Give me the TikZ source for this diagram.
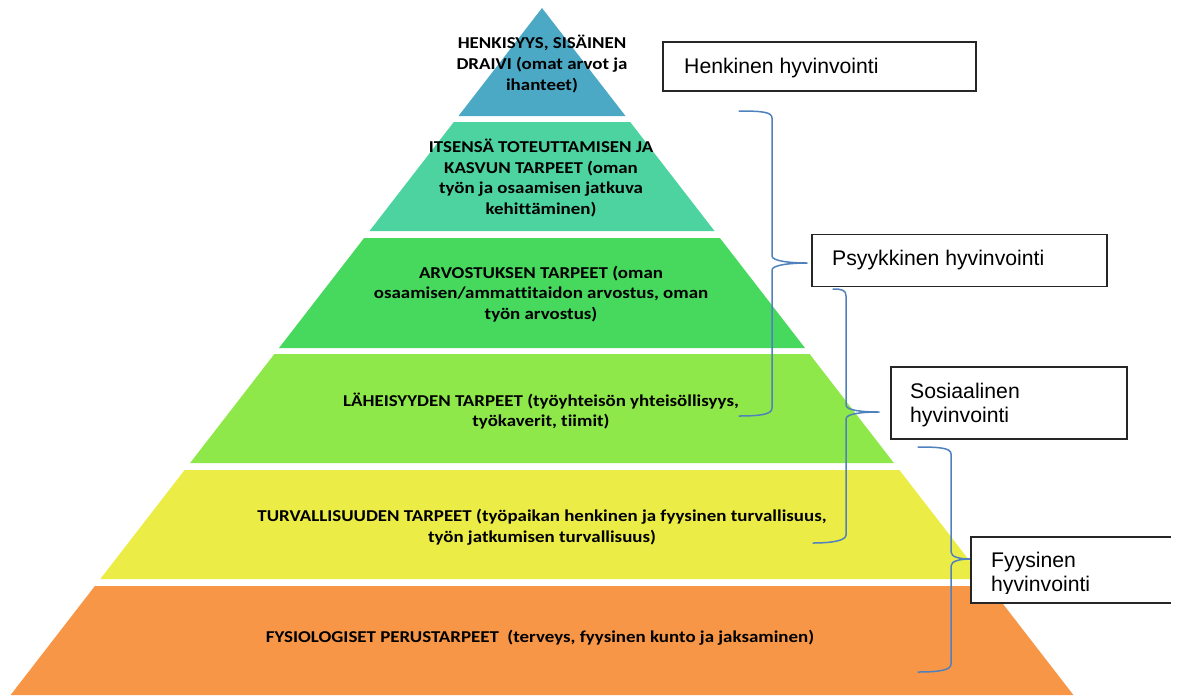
\documentclass[tikz,border=0pt]{standalone}
\usepackage{fontspec}
\setmainfont{Carlito}[FakeStretch=1.14, Ligatures=NoCommon]
\newfontfamily\arialf{Liberation Sans}
\definecolor{cA}{HTML}{4BA9C6}
\definecolor{cB}{HTML}{4CD3A0}
\definecolor{cC}{HTML}{47D95E}
\definecolor{cD}{HTML}{8EE84A}
\definecolor{cE}{HTML}{ECEC46}
\definecolor{cF}{HTML}{F79646}
\definecolor{bracecol}{HTML}{4F81BD}
\definecolor{boxgray}{HTML}{262626}
\tikzset{
  lvl/.style={fill=#1, draw=none},
  lvltext/.style={font=\bfseries\fontsize{16.6}{20.8}\selectfont, align=center, inner sep=0pt, text=black},
  wbox/.style={draw=boxgray, line width=1.3pt, fill=white, inner sep=0pt, rectangle},
  wtext/.style={font=\arialf\fontsize{21.2}{24}\selectfont, inner sep=0pt, anchor=base west, text=black},
  bracepath/.style={draw=bracecol, line width=1.5pt, line join=round, line cap=round},
}
\begin{document}
\begin{tikzpicture}[x=1pt,y=-1pt]
\useasboundingbox (0,0) rectangle (1178,697);
% pyramid layers
\fill[lvl=cA] (542,8) -- (625.5,116) -- (458.5,116) -- cycle;
\fill[lvl=cB] (453.8,122) -- (630.2,122) -- (714.5,231) -- (369.5,231) -- cycle;
\fill[lvl=cC] (364.1,238) -- (719.9,238) -- (805.0,348) -- (279.0,348) -- cycle;
\fill[lvl=cD] (274.4,354) -- (809.6,354) -- (893.9,463) -- (190.1,463) -- cycle;
\fill[lvl=cE] (184.6,470) -- (899.4,470) -- (983.7,579) -- (100.3,579) -- cycle;
\fill[lvl=cF] (94.9,586) -- (989.1,586) -- (1073.4,695) -- (10.6,695) -- cycle;
% pyramid texts
\node[lvltext] (t1) at (542,64) {HENKISYYS, SISÄINEN\\DRAIVI (omat arvot ja\\ihanteet)};
\node[lvltext] (t2) at (541,178) {ITSENSÄ TOTEUTTAMISEN JA\\KASVUN TARPEET (oman\\työn ja osaamisen jatkuva\\kehittäminen)};
\node[lvltext] (t3) at (541,294) {ARVOSTUKSEN TARPEET (oman\\osaamisen/ammattitaidon arvostus, oman\\työn arvostus)};
\node[lvltext] (t4) at (541,411) {LÄHEISYYDEN TARPEET (työyhteisön yhteisöllisyys,\\työkaverit, tiimit)};
\node[lvltext] (t5) at (542,527) {TURVALLISUUDEN TARPEET (työpaikan henkinen ja fyysinen turvallisuus,\\työn jatkumisen turvallisuus)};
\node[lvltext] (t6) at (540,638) {FYSIOLOGISET PERUSTARPEET\ \ (terveys, fyysinen kunto ja jaksaminen)};
% braces
\coordinate (b1t) at (739,111);
\coordinate (b1m) at (807,263);
\coordinate (b1b) at (739,416);
\draw[bracepath] (b1t) .. controls (762,111) and (772,112) .. (772,118) -- (772,256)
  .. controls (772,261) and (790,263) .. (b1m)
  .. controls (790,263) and (772,265) .. (772,270) -- (772,408)
  .. controls (772,414) and (762,416) .. (b1b);
\coordinate (b2t) at (833,289);
\coordinate (b2m) at (879,412);
\coordinate (b2b) at (813,543);
\draw[bracepath] (b2t) .. controls (842,289) and (846,290) .. (846,296) -- (846,405)
  .. controls (846,410) and (860,412) .. (b2m)
  .. controls (860,412) and (846,414) .. (846,419) -- (846,535)
  .. controls (846,541) and (830,543) .. (b2b);
\coordinate (b3t) at (918,447);
\coordinate (b3m) at (970,559);
\coordinate (b3b) at (918,672);
\draw[bracepath] (b3t) .. controls (940,447) and (951,448) .. (951,454) -- (951,552)
  .. controls (951,557) and (960,559) .. (b3m)
  .. controls (960,559) and (951,561) .. (951,566) -- (951,664)
  .. controls (951,670) and (940,672) .. (b3b);
% boxes
\node[wbox, minimum width=313pt, minimum height=49pt] (hbox) at (819.5,66.5) {};
\node[wtext] (htext) at (684,73) {Henkinen hyvinvointi};
\node[wbox, minimum width=295pt, minimum height=52pt] (pbox) at (959.5,260.5) {};
\node[wtext] (ptext) at (832,265) {Psyykkinen hyvinvointi};
\node[wbox, minimum width=236pt, minimum height=72pt] (sbox) at (1009,403) {};
\node[wtext] (stext) at (910,398.5) {\begin{tabular}[t]{@{}l@{}}Sosiaalinen\\hyvinvointi\end{tabular}};
\fill[white] (971,537) rectangle (1171,603);
\draw[draw=boxgray, line width=1.3pt] (1171,537) -- (971,537) -- (971,603) -- (1171,603);
\coordinate (fbox) at (971,570);
\begin{scope}
\clip (971,537) rectangle (1171,593.5);
\node[wtext] (ftext) at (991,567) {\begin{tabular}[t]{@{}l@{}}Fyysinen\\hyvinvointi\end{tabular}};
\end{scope}
\end{tikzpicture}
\end{document}
